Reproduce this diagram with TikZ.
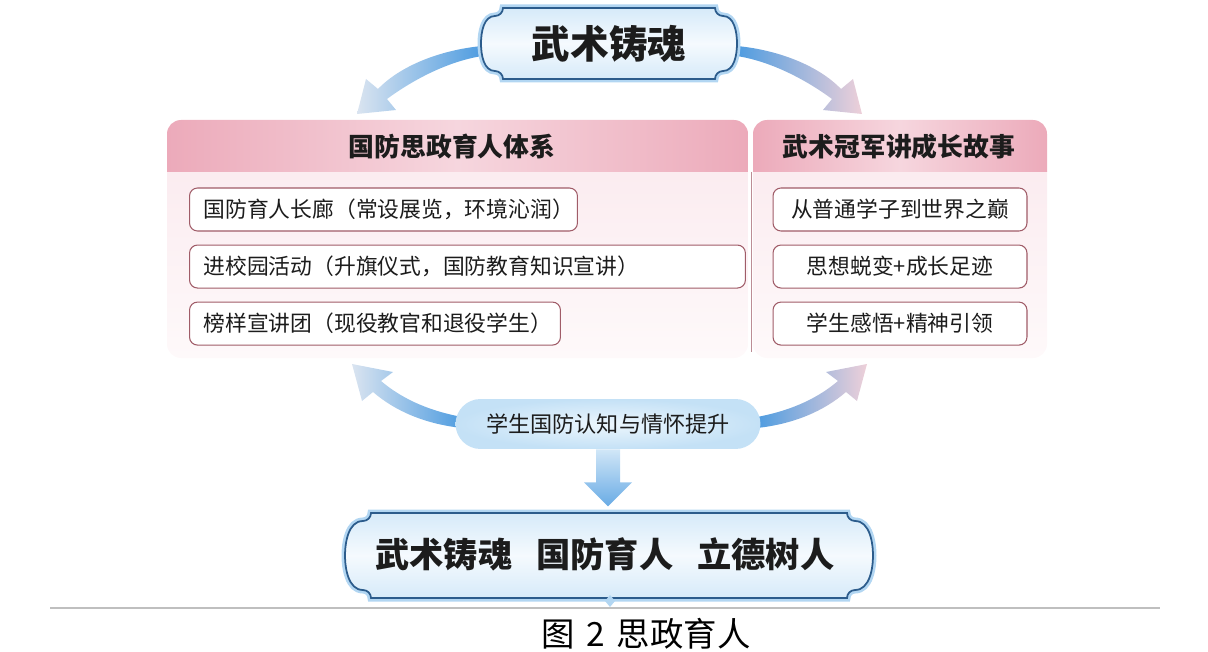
\documentclass[tikz,border=0pt]{standalone}
\usepackage{fontspec}
\setmainfont{Noto Sans CJK SC}
\usetikzlibrary{positioning,calc}

\definecolor{arrowblue}{RGB}{78,156,224}
\definecolor{palebl}{RGB}{218,228,240}
\definecolor{palepink}{RGB}{238,208,217}
\definecolor{glowbl}{RGB}{178,214,242}
\definecolor{rimbl}{RGB}{44,92,140}
\definecolor{scrolltop}{RGB}{214,234,249}
\definecolor{scrollmid}{RGB}{245,250,254}
\definecolor{hdrpink}{RGB}{236,170,186}
\definecolor{hdrlight}{RGB}{246,214,222}
\definecolor{bodypink}{RGB}{251,236,240}
\definecolor{bodylight}{RGB}{254,249,250}
\definecolor{itemrim}{RGB}{160,92,104}
\definecolor{pilledge}{RGB}{196,225,246}
\definecolor{pillin}{RGB}{236,246,253}
\definecolor{inkblack}{RGB}{28,28,28}

\tikzset{
	itembox/.style={draw=itemrim, line width=0.6pt, fill=white, rounded corners=0.16cm,
		minimum height=0.86cm, inner sep=0pt, text=inkblack, font=\fontsize{12.4}{14}\selectfont},
	hdrtext/.style={text=inkblack, font=\fontsize{14.7}{17}\selectfont\bfseries},
	scrollstyle/.style={top color=scrolltop, bottom color=scrolltop, middle color=scrollmid,
		preaction={draw=glowbl, line width=0.14cm},
		postaction={draw=rimbl, line width=1pt}},
}

% scroll frame: x0, y0, x1, y1, indent
\newcommand\scrollframe[5]{%
	\path[scrollstyle] ({#1+#5},#2) -- ({#3-#5},#2)
		.. controls ({#3-#5},{#2+4.4}) and ({#3-#5+3.6},{#2+8}) .. ({#3-#5+8},{#2+8})
		.. controls ({#3-3},{#2+8}) and (#3,{(#2+#4)/2-12}) .. (#3,{(#2+#4)/2})
		.. controls (#3,{(#2+#4)/2+12}) and ({#3-3},{#4-8}) .. ({#3-#5+8},{#4-8})
		.. controls ({#3-#5+3.6},{#4-8}) and ({#3-#5},{#4-4.4}) .. ({#3-#5},#4)
		-- ({#1+#5},#4)
		.. controls ({#1+#5},{#4-4.4}) and ({#1+#5-3.6},{#4-8}) .. ({#1+#5-8},{#4-8})
		.. controls ({#1+3},{#4-8}) and (#1,{(#2+#4)/2+12}) .. (#1,{(#2+#4)/2})
		.. controls (#1,{(#2+#4)/2-12}) and ({#1+3},{#2+8}) .. ({#1+#5-8},{#2+8})
		.. controls ({#1+#5-3.6},{#2+8}) and ({#1+#5},{#2+4.4}) .. cycle;}

\begin{document}
\begin{tikzpicture}[x=0.02cm, y=-0.02cm, node distance=0.26cm]
	\useasboundingbox (0,0) rectangle (1208,652);

	% curved arrows
	\shade[left color=palebl, right color=arrowblue] (482,46) .. controls (440,50) and (400,66) .. (378,89)
		-- (366,79) -- (357,114) -- (396,110) -- (387,99) .. controls (410,82) and (445,62) .. (482,56) -- cycle;
	\shade[left color=arrowblue, right color=palepink] (737,46) .. controls (779,50) and (819,66) .. (841,89)
		-- (853,79) -- (862,114) -- (823,110) -- (832,99) .. controls (809,82) and (774,62) .. (737,56) -- cycle;
	\shade[left color=palebl, right color=arrowblue] (462,417) .. controls (425,410) and (400,397) .. (381,381)
		-- (393,372) -- (352,364) -- (362,401) -- (373,392) .. controls (395,411) and (425,424) .. (462,428) -- cycle;
	\shade[left color=arrowblue, right color=palepink] (757,417) .. controls (794,410) and (819,397) .. (838,381)
		-- (826,372) -- (867,364) -- (857,401) -- (846,392) .. controls (824,411) and (794,424) .. (757,428) -- cycle;

	% top banner
	\scrollframe{481}{8}{737}{79}{22}
	\node[text=inkblack, font=\fontsize{22}{26}\selectfont\bfseries] (top) at (609,44) {武术铸魂};

	% panels
	\begin{scope}
		\clip[rounded corners=0.28cm] (167,120) rectangle (748,358);
		\shade[top color=bodypink, bottom color=bodylight] (167,172) rectangle (748,358);
		\shade[left color=hdrpink, right color=hdrpink, middle color=hdrlight] (167,120) rectangle (748,172);
	\end{scope}
	\begin{scope}
		\clip[rounded corners=0.28cm] (753,120) rectangle (1047,358);
		\shade[top color=bodypink, bottom color=bodylight] (753,172) rectangle (1047,358);
		\shade[left color=hdrpink, right color=hdrpink, middle color=hdrlight] (753,120) rectangle (1047,172);
	\end{scope}
	\draw[itemrim!70, line width=0.5pt] (751,172) -- (751,352);

	\node[hdrtext] (lhdr) at (452,147) {国防思政育人体系};
	\node[hdrtext] (rhdr) at (899,147) {武术冠军讲成长故事};

	\node[itembox, anchor=west, inner xsep=0.28cm, text width=7.2cm, align=left] (l1) at (189,209.5) {国防育人长廊（常设展览，环境沁润）};
	\node[itembox, below=of l1.south west, anchor=north west, inner xsep=0.28cm, text width=10.56cm, align=left] (l2) {进校园活动（升旗仪式，国防教育知识宣讲）};
	\node[itembox, below=of l2.south west, anchor=north west, inner xsep=0.28cm, text width=6.86cm, align=left] (l3) {榜样宣讲团（现役教官和退役学生）};

	\node[itembox, minimum width=5.08cm] (r1) at (900,209.5) {从普通学子到世界之巅};
	\node[itembox, minimum width=5.08cm, below=of r1] (r2) {思想蜕变+成长足迹};
	\node[itembox, minimum width=5.08cm, below=of r2] (r3) {学生感悟+精神引领};

	% middle
	\node[inner color=pillin, outer color=pilledge, rounded corners=0.5cm, minimum width=6.1cm, minimum height=1cm,
		text=inkblack, font=\fontsize{12.6}{15}\selectfont] (mid) at (608,424) {学生国防认知与情怀提升};
	\shade[top color=glowbl!60, bottom color=arrowblue!85] ($(mid.south)+(-12,0)$) -- ++(24,0) -- ++(0,33)
		-- ++(12,0) -- ++(-24,24) -- ++(-24,-24) -- ++(12,0) -- cycle;

	% bottom banner
	\scrollframe{345}{513}{873}{598}{26}
	\fill[glowbl] (610,595) -- (615,601) -- (610,607) -- (605,601) -- cycle;
	\node[text=inkblack, font=\fontsize{19.5}{24}\selectfont\bfseries] (goal) at (605,554)
		{武术铸魂\hspace{0.7em}国防育人\hspace{0.7em}立德树人};

	\draw[black!25, line width=0.8pt] (50,608) -- (1160,608);
	\node[text=black, font=\fontsize{19}{22}\selectfont] (cap) at (646,634) {图\hspace{0.35em}2\hspace{0.35em}思政育人};
\end{tikzpicture}
\end{document}
